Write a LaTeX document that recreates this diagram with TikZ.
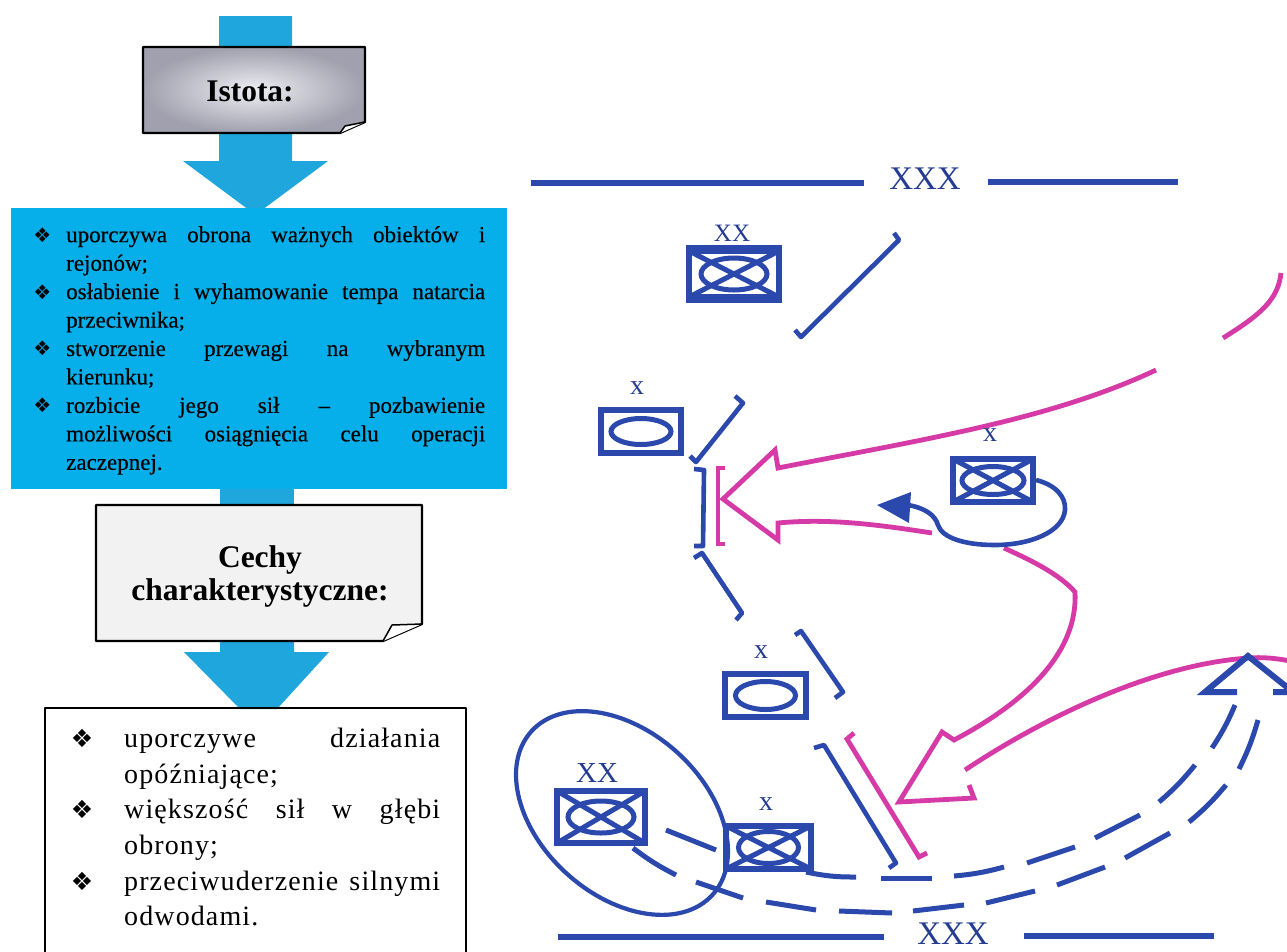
\documentclass[tikz,border=0pt]{standalone}
\usepackage{fontspec}
\setmainfont{Liberation Serif}
\newfontfamily\dejavu{DejaVu Sans}
\newfontfamily\spaced[LetterSpace=4]{Liberation Serif}
\newfontfamily\heavy[FakeBold=0.35]{Liberation Serif}
\usetikzlibrary{shapes.geometric}
\definecolor{uBlue}{HTML}{2B48AC}
\definecolor{uMag}{HTML}{D63AA6}
\definecolor{arrowC}{HTML}{1FA6DC}
\definecolor{panelC}{HTML}{06AEEA}
\definecolor{shadeIn}{HTML}{EEEEF4}
\definecolor{shadeOut}{HTML}{A0A0AE}
\tikzset{
  x=1pt,y=-1pt,
  flowarrow/.style={fill=arrowC,draw=none},
  notebox/.style={draw=black,line width=2.2pt,line join=round},
  bl/.style={draw=uBlue,line width=4.6pt,line join=round},
  mg/.style={draw=uMag,line width=4.8pt,line join=miter},
  thickline/.style={draw=uBlue,line width=6.5pt},
  dashpiece/.style={draw=uBlue,line width=5pt},
  symb/.style={draw=uBlue,line width=6pt},
  smalllab/.style={text=uBlue!85!black,inner sep=0pt,font=\fontsize{28}{28}\selectfont},
  xxlab/.style={text=uBlue!85!black,inner sep=0pt,font=\fontsize{25}{25}\selectfont},
  xxxlab/.style={text=uBlue!85!black,inner sep=0pt,font=\fontsize{33}{33}\selectfont},
  title/.style={inner sep=0pt,align=center,font=\bfseries\fontsize{31.5}{33}\selectfont},
}
\newcommand{\bulA}{\leavevmode\llap{{\dejavu\fontsize{20}{20}\selectfont ❖}\hspace{15pt}}}
\newcommand{\bulB}{\leavevmode\llap{{\dejavu\fontsize{25}{25}\selectfont ❖}\hspace{31pt}}}
% plain symbol: x1,y1,x2,y2,rx,ry
\newcommand{\plainsym}[6]{%
  \draw[symb] (#1+3,#2+3) rectangle (#3-3,#4-3);
  \draw[symb,line width=5pt] ({(#1+#3)/2},{(#2+#4)/2}) ellipse [x radius=#5pt,y radius=#6pt];}
\newcommand{\crosssym}[6]{%
  \plainsym{#1}{#2}{#3}{#4}{#5}{#6}
  \draw[symb,line width=5pt] (#1+3,#2+3) -- (#3-3,#4-3) (#1+3,#4-3) -- (#3-3,#2+3);}
\begin{document}
\begin{tikzpicture}
\useasboundingbox (0,0) rectangle (1287,951);
\fill[white] (0,0) rectangle (1287,951);
% ---- left column
\path[flowarrow] (219,16) -- (292,16) -- (292,161) -- (328,161) -- (262,210) -- (249,210) -- (183,161) -- (219,161) -- cycle;
\path[flowarrow] (220,485) rectangle (294,510);
\path[flowarrow] (220,636) -- (294,636) -- (294,652) -- (329,652) -- (277,709) -- (240,709) -- (184,652) -- (220,652) -- cycle;
\fill[panelC] (11,208) rectangle (507,489);
\shade[inner color=shadeIn,outer color=shadeOut]
  (143,47) -- (365,47) -- (365,122) -- (340,133) -- (143,133) -- cycle;
\draw[notebox] (143,47) -- (365,47) -- (365,122) -- (340,133) -- (143,133) -- cycle;
\draw[notebox,line width=1.5pt,fill=white] (340,133) -- (345,126) -- (365,122);
\node[title] (istota) at (250,91) {Istota:};
\node[anchor=north west,inner sep=0pt,text width=419pt,align=justify,
      font=\heavy\fontsize{23}{28.45}\selectfont] (goals) at (66,226) {%
\bulA uporczywa obrona ważnych obiektów i\linebreak rejonów;\par
\bulA osłabienie i wyhamowanie tempa natarcia\linebreak przeciwnika;\par
\bulA stworzenie przewagi na wybranym\linebreak kierunku;\par
\bulA rozbicie jego sił – pozbawienie\linebreak możliwości osiągnięcia celu operacji\linebreak zaczepnej.};
\fill[black!5] (96,505) -- (422,505) -- (422,624) -- (383,641) -- (96,641) -- cycle;
\draw[notebox] (96,505) -- (422,505) -- (422,624) -- (383,641) -- (96,641) -- cycle;
\draw[notebox,line width=1.5pt,fill=white] (383,641) -- (392,625) -- (422,624);
\node[title] (cechy) at (260,576) {Cechy\\charakterystyczne:};
\draw[notebox] (45,960) -- (45,708) -- (466,708) -- (466,960);
\node[anchor=north west,inner sep=0pt,text width=316pt,align=justify,
      font=\spaced\fontsize{28}{35.6}\selectfont] (traits) at (124,728) {%
\bulB uporczywe działania\linebreak opóźniające;\par
\bulB większość sił w głębi\linebreak obrony;\par
\bulB przeciwuderzenie silnymi\linebreak odwodami.};
% ---- front lines
\draw[thickline] (531,183) -- (864,183);
\draw[thickline] (988,182) -- (1178,182);
\node[xxxlab] (xxxtop) at (925,179) {XXX};
\draw[thickline] (558,937) -- (884,937);
\draw[thickline] (1024,936) -- (1214,936);
\node[xxxlab] (xxxbot) at (953,934) {XXX};
% ---- magenta manoeuvre lines
\draw[mg] (1156,370) .. controls (1050,420) and (920,440) .. (778,468) -- (775,450) -- (723,499) -- (778,540) -- (778,523) .. controls (830,518) and (880,525) .. (932,533);
\draw[mg] (1223,338) .. controls (1260,315) and (1278,300) .. (1281,273);
\draw[mg] (725,468) -- (718,468) -- (718,544) -- (725,544);
\draw[mg] (1004,548) .. controls (1035,562) and (1060,575) .. (1075,592) .. controls (1078,650) and (1030,700) .. (954,740) -- (942,732) -- (899,802) -- (974,798) -- (969,785);
\draw[mg] (965,770) .. controls (1040,720) and (1150,665) .. (1248,658) .. controls (1262,657) and (1275,658) .. (1290,661);
\draw[mg] (854,733) -- (847,739) -- (919,857) -- (927,853);
% ---- blue brackets
\draw[bl] (894,233) -- (899,240) -- (801,337) -- (795,330);
\draw[bl] (735,396) -- (743,403) -- (696,462) -- (690,456);
\draw[bl] (694,469) -- (704,470) -- (703,546) -- (694,546);
\draw[bl] (694,558) -- (702,553) -- (742,613) -- (736,620);
\draw[bl] (795,635) -- (801,631) -- (843,692) -- (835,698);
\draw[bl] (814,748) -- (824,745) -- (896,863) -- (889,868);
% ---- unit symbols
\crosssym{686}{248}{782}{300}{33}{16}
\draw[symb] (686,248) -- (782,248) (686,300) -- (782,300);
\node[xxlab] (xx1) at (732,233) {XX};
\plainsym{598}{407}{684}{456}{30}{13}
\node[smalllab] (x1) at (637,388) {x};
\crosssym{950}{456}{1036}{505}{31}{14}
\node[smalllab] (x2) at (990,435) {x};
\plainsym{722}{671}{809}{720}{30}{14}
\node[smalllab] (x3) at (761,652) {x};
\crosssym{554}{788}{648}{846}{33}{16}
\node[xxlab,font=\fontsize{29}{29}\selectfont] (xx2) at (597,773) {XX};
\crosssym{723}{823}{814}{872}{30}{16}
\node[smalllab] (x4) at (766,804) {x};
% ---- loop arrow
\draw[bl] (1036,480) .. controls (1056,485) and (1066,497) .. (1065,510) .. controls (1063,532) and (1030,545) .. (995,545) .. controls (965,545) and (942,538) .. (938,525) .. controls (935,515) and (925,508) .. (908,505);
\fill[uBlue] (877,505) -- (911,492) -- (909,523) -- cycle;
% ---- reserve ellipse
\draw[bl,line width=4.2pt,rotate around={-42:(622,813)}] (622,813) ellipse [x radius=122pt,y radius=82pt];
% ---- triangle
\draw[bl,line width=6pt,line join=miter] (1237,692) -- (1205,692) -- (1248,656) -- (1293,692) -- (1273,692);
% ---- dashed routes
\draw[dashpiece] (806,872) to[bend right=6] (856,877);
\draw[dashpiece] (881,878) -- (932,878);
\draw[dashpiece] (954,876) to[bend right=5] (1004,867);
\draw[dashpiece] (1027,863) -- (1075,847);
\draw[dashpiece] (1095,838) -- (1140,815);
\draw[dashpiece] (1159,802) to[bend right=5] (1195,765);
\draw[dashpiece] (1212,748) to[bend right=5] (1235,705);
\draw[dashpiece] (666,830) -- (716,850);
\draw[dashpiece] (633,848) to[bend right=5] (676,875);
\draw[dashpiece] (696,882) -- (743,898);
\draw[dashpiece] (766,902) -- (816,910);
\draw[dashpiece] (839,911) -- (892,913);
\draw[dashpiece] (913,911) -- (964,905);
\draw[dashpiece] (986,903) -- (1035,891);
\draw[dashpiece] (1057,885) -- (1105,867);
\draw[dashpiece] (1125,858) -- (1170,833);
\draw[dashpiece] (1189,822) to[bend right=5] (1226,785);
\draw[dashpiece] (1239,769) to[bend right=5] (1258,720);
\end{tikzpicture}
\end{document}
